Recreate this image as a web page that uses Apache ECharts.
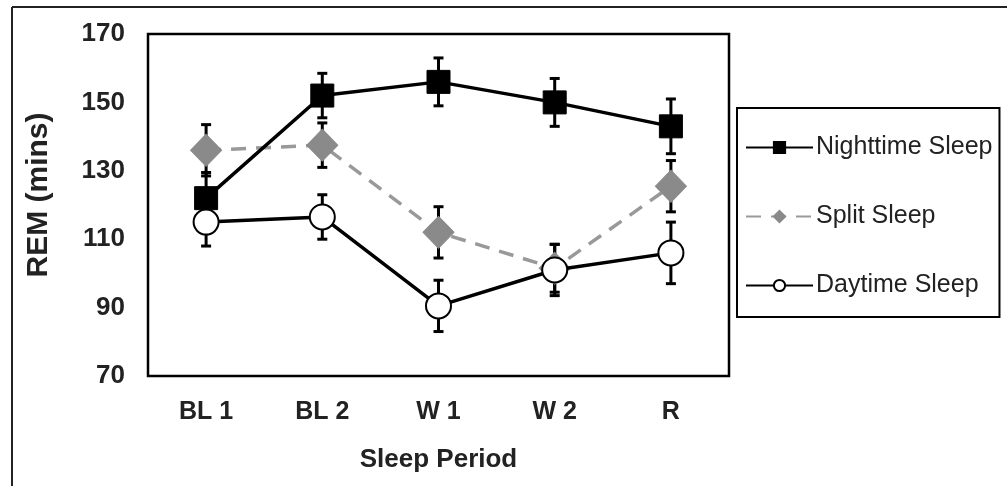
<!DOCTYPE html>
<html>
<head>
<meta charset="utf-8">
<script src="https://cdn.jsdelivr.net/npm/echarts@6/dist/echarts.min.js"></script>
<style>html,body{margin:0;padding:0;background:#fff;}#c{width:1007px;height:486px;}</style>
</head>
<body>
<div id="c"></div>
<script>
const categories = ['BL 1', 'BL 2', 'W 1', 'W 2', 'R'];
const nightValues = [122, 152, 156, 150, 143];
const nightErr = [7.5, 6.5, 7, 7, 8];
const splitValues = [136, 137.5, 112, 101.5, 125.5];
const splitErr = [7.5, 6.5, 7.5, 7, 7.5];
const dayValues = [115, 116.5, 90.5, 101, 106];
const dayErr = [7, 6.5, 7.5, 7.5, 9];
const yTicks = [70, 90, 110, 130, 150, 170];

const chart = echarts.init(document.getElementById('c'), null, {renderer: 'canvas'});

function errData(vals, errs) {
  return vals.map((v, i) => [i, v - errs[i], v + errs[i]]);
}
function errSeries(name, vals, errs) {
  return {
    type: 'custom',
    name: name + ' err',
    z: 1,
    silent: true,
    renderItem: function (params, api) {
      const x = api.value(0);
      const lo = api.coord([x, api.value(1)]);
      const hi = api.coord([x, api.value(2)]);
      const cw = 5;
      const st = {stroke: '#000', lineWidth: 3};
      return {
        type: 'group',
        children: [
          {type: 'line', shape: {x1: lo[0], y1: lo[1], x2: hi[0], y2: hi[1]}, style: st},
          {type: 'line', shape: {x1: lo[0] - cw, y1: lo[1], x2: lo[0] + cw, y2: lo[1]}, style: st},
          {type: 'line', shape: {x1: hi[0] - cw, y1: hi[1], x2: hi[0] + cw, y2: hi[1]}, style: st}
        ]
      };
    },
    data: errData(vals, errs),
    tooltip: {show: false}
  };
}

const option = {
  backgroundColor: '#fff',
  animation: false,
  textStyle: {fontFamily: 'Liberation Sans, Arial, sans-serif'},
  graphic: [
    {type: 'line', shape: {x1: 12, y1: 7, x2: 1007, y2: 7}, style: {stroke: '#222', lineWidth: 2}},
    {type: 'line', shape: {x1: 12, y1: 7, x2: 12, y2: 486}, style: {stroke: '#222', lineWidth: 2}}
  ],
  grid: {
    left: 148, top: 34, width: 581, height: 342,
    show: true, borderColor: '#000', borderWidth: 2.5, backgroundColor: 'transparent'
  },
  legend: {
    orient: 'vertical',
    left: 737, top: 108,
    padding: [27, 7, 19, 8],
    itemGap: 44,
    itemWidth: 67,
    itemHeight: 14,
    borderColor: '#000',
    borderWidth: 2,
    textStyle: {fontSize: 25, color: '#222', fontFamily: 'Liberation Sans, Arial, sans-serif', padding: [0, 0, 0, -2]},
    data: ['Nighttime Sleep', 'Split Sleep', 'Daytime Sleep']
  },
  xAxis: {
    type: 'category',
    data: categories,
    boundaryGap: true,
    axisLine: {show: false},
    axisTick: {show: false},
    splitLine: {show: false},
    axisLabel: {fontSize: 25, fontWeight: 'bold', color: '#222', margin: 24},
    name: 'Sleep Period',
    nameLocation: 'middle',
    nameGap: 71,
    nameTextStyle: {fontSize: 26, fontWeight: 'bold', color: '#222'}
  },
  yAxis: {
    type: 'value',
    min: yTicks[0], max: yTicks[yTicks.length - 1], interval: 20,
    axisLine: {show: false},
    axisTick: {show: false},
    splitLine: {show: false},
    axisLabel: {fontSize: 26, fontWeight: 'bold', color: '#222', margin: 23},
    name: 'REM (mins)',
    nameLocation: 'middle',
    nameGap: 94,
    nameRotate: 90,
    nameTextStyle: {fontSize: 30, fontWeight: 'bold', color: '#222', padding: [0, 0, 0, 20]}
  },
  series: [
    errSeries('Nighttime Sleep', nightValues, nightErr),
    errSeries('Split Sleep', splitValues, splitErr),
    errSeries('Daytime Sleep', dayValues, dayErr),
    {
      name: 'Split Sleep', type: 'line', data: splitValues, z: 3,
      symbol: 'diamond', symbolSize: [31, 32],
      lineStyle: {color: '#999', width: 3.5, type: [15, 10]},
      itemStyle: {color: '#8a8a8a', borderColor: '#8a8a8a', borderWidth: 1}
    },
    {
      name: 'Nighttime Sleep', type: 'line', data: nightValues, z: 4,
      symbol: 'rect', symbolSize: 23,
      lineStyle: {color: '#000', width: 3.5},
      itemStyle: {color: '#000', borderColor: '#000', borderWidth: 1}
    },
    {
      name: 'Daytime Sleep', type: 'line', data: dayValues, z: 5,
      symbol: 'circle', symbolSize: 25,
      lineStyle: {color: '#000', width: 3.5},
      itemStyle: {color: '#fff', borderColor: '#000', borderWidth: 2}
    }
  ]
};
chart.setOption(option);
</script>
</body>
</html>
